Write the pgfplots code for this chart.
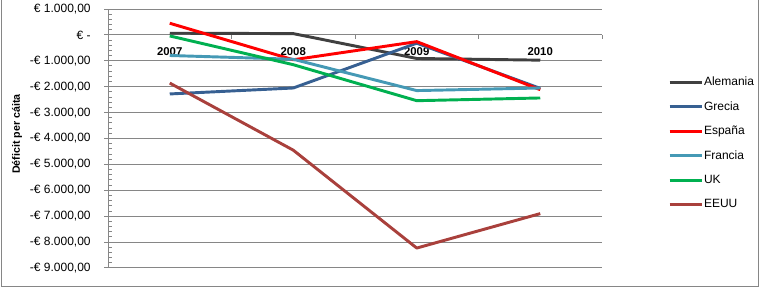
\documentclass[border=0pt]{standalone}
\usepackage{fontspec}
\setmainfont{Liberation Sans}
\usepackage{pgfplots}
\pgfplotsset{compat=1.18}
\definecolor{axgray}{HTML}{868686}
\definecolor{cAle}{HTML}{404040}
\definecolor{cGre}{HTML}{376092}
\definecolor{cEsp}{HTML}{FF0000}
\definecolor{cFra}{HTML}{4599B5}
\definecolor{cUK}{HTML}{00B050}
\definecolor{cEEUU}{HTML}{A9403C}
\begin{document}
\begin{tikzpicture}
\useasboundingbox (0,0) rectangle (570pt,-216.75pt);
\draw[axgray, line width=0.75pt] (0.75pt,0pt) -- (0.75pt,-214.5pt) -- (568.9pt,-214.5pt) -- (568.9pt,0pt);
\begin{axis}[
  at={(81pt,-6.75pt)}, anchor=north west,
  scale only axis, width=370.5pt, height=194.25pt,
  xmin=-0.5, xmax=3.5, ymin=-9000, ymax=1000,
  axis x line=middle, axis y line=left,
  axis line style={-, color=axgray, line width=0.75pt},
  every inner x axis line/.append style={-},
  hide obscured x ticks=false, hide obscured y ticks=false,
  xtick={0,1,2,3}, xticklabels={2007,2008,2009,2010},
  x tick label style={font=\bfseries\fontsize{8.5}{10}\selectfont, yshift=-4.5pt},
  major x tick style={draw=none},
  extra x ticks={0.5,1.5,2.5,3.5}, extra x tick labels={},
  extra x tick style={major tick length=3pt, tick align=outside, major x tick style={draw=axgray, line width=0.75pt}},
  ytick={-9000,-8000,...,1000},
  yticklabels={{-€ 9.000,00},{-€ 8.000,00},{-€ 7.000,00},{-€ 6.000,00},{-€ 5.000,00},{-€ 4.000,00},{-€ 3.000,00},{-€ 2.000,00},{-€ 1.000,00},{€ -},{€ 1.000,00}},
  y tick label style={font=\fontsize{9}{10}\selectfont, xshift=-6.5pt},
  ytick align=outside, major tick length=3pt,
  minor y tick num=4, minor tick length=3pt,
  minor y tick style={xshift=3pt, draw=axgray, line width=0.75pt},
  major y tick style={draw=axgray, line width=0.75pt},
  ymajorgrids, major grid style={axgray, line width=0.75pt},
  ylabel={\bfseries Déficit per cáita},
  ylabel style={at={(axis description cs:-0.1842,0.517)}, anchor=center, font=\fontsize{8}{10}\selectfont},
  legend style={draw=none, fill=none, at={(axis description cs:1.1336,0.742)}, anchor=north west,
    font=\fontsize{9}{10}\selectfont, row sep=9.2pt, inner sep=0pt, nodes={inner sep=0.6pt}},
  legend cell align=left,
  legend image code/.code={\draw[#1] (0pt,0pt) -- (24pt,0pt);},
  every axis plot/.append style={line width=2.2pt, line join=round},
]
\addplot[cAle] coordinates {(0,65) (1,50) (2,-910) (3,-975)};
\addlegendentry{Alemania}
\addplot[cGre] coordinates {(0,-2280) (1,-2050) (2,-320) (3,-2065)};
\addlegendentry{Grecia}
\addplot[cEsp] coordinates {(0,450) (1,-960) (2,-260) (3,-2115)};
\addlegendentry{España}
\addplot[cFra] coordinates {(0,-795) (1,-940) (2,-2150) (3,-2050)};
\addlegendentry{Francia}
\addplot[cUK] coordinates {(0,-40) (1,-1150) (2,-2540) (3,-2435)};
\addlegendentry{UK}
\addplot[cEEUU] coordinates {(0,-1860) (1,-4450) (2,-8230) (3,-6900)};
\addlegendentry{EEUU}
\end{axis}
\end{tikzpicture}
\end{document}
